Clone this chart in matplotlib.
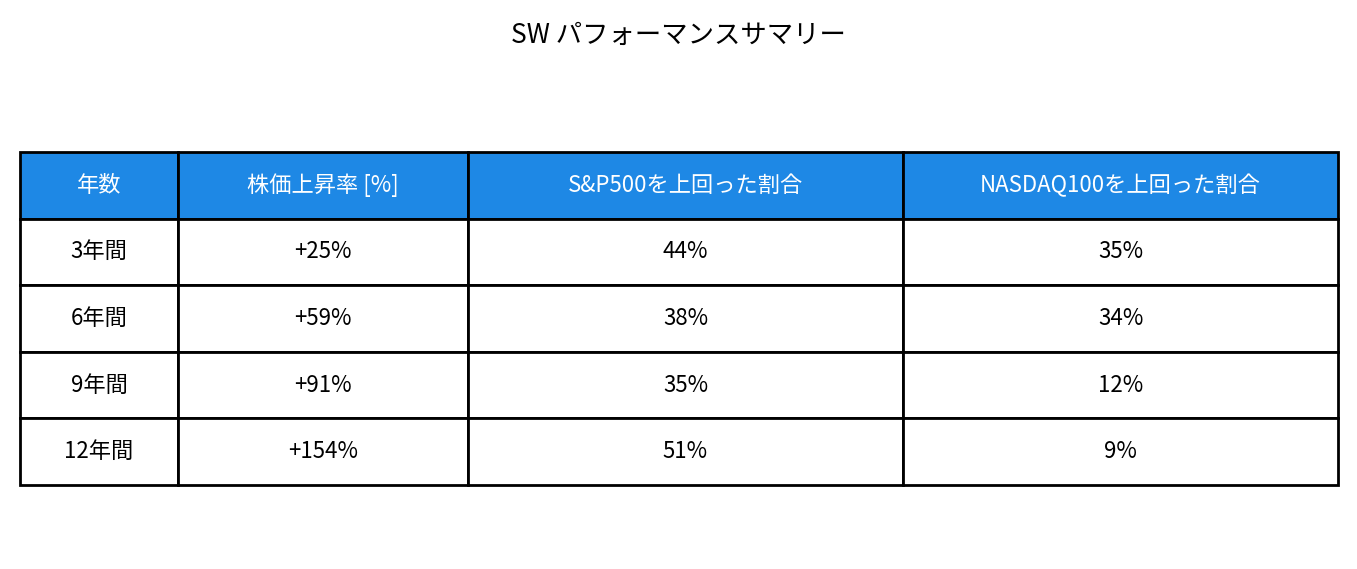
import matplotlib
matplotlib.use("Agg")
import matplotlib.pyplot as plt

plt.rcParams['font.family'] = ['Noto Sans CJK JP', 'DejaVu Sans']

headers = ["年数", "株価上昇率 [%]", "S&P500を上回った割合", "NASDAQ100を上回った割合"]
periods = ["3年間", "6年間", "9年間", "12年間"]
gains = ["+25%", "+59%", "+91%", "+154%"]
vs_sp500 = ["44%", "38%", "35%", "51%"]
vs_nasdaq = ["35%", "34%", "12%", "9%"]

rows = [list(r) for r in zip(periods, gains, vs_sp500, vs_nasdaq)]
col_px = [158, 290, 435, 435]
col_w = [w / sum(col_px) for w in col_px]

fig = plt.figure(figsize=(13.57, 5.69), dpi=100)
ax = fig.add_axes([0, 0, 1, 1])
ax.axis("off")

tbl = ax.table(cellText=rows, colLabels=headers, colWidths=col_w, cellLoc="center",
               bbox=[20 / 1357, 1 - 485 / 569, 1318 / 1357, 333 / 569])
tbl.auto_set_font_size(False)
for (r, c), cell in tbl.get_celld().items():
    cell.set_linewidth(2)
    cell.set_edgecolor("black")
    cell.get_text().set_fontsize(16)
    if r == 0:
        cell.set_facecolor("#1E88E5")
        cell.get_text().set_color("white")

fig.text(0.5, 1 - 35 / 569, "SW パフォーマンスサマリー", ha="center", va="center", fontsize=19)
fig.savefig("out.png", dpi=100)
